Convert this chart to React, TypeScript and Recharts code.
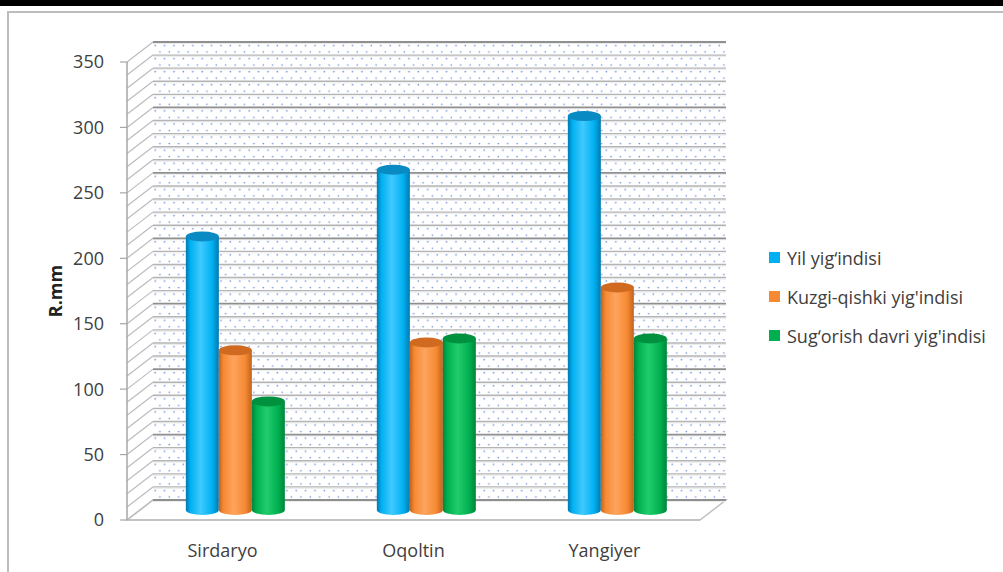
import React from "react";
import { BarChart, Bar, XAxis, YAxis, CartesianGrid, ReferenceArea } from "recharts";

// rainfall per district, mm
const categories = ["Sirdaryo", "Oqoltin", "Yangiyer"];
const yilYigindisi = [209, 260, 301];
const kuzgiQishki = [122, 128, 170];
const sugorishDavri = [83, 131, 131];

const seriesKeys = ["yil", "kuzgi", "sugorish"];
const seriesNames = ["Yil yig\u2018indisi", "Kuzgi-qishki yig'indisi", "Sug\u2018orish davri yig'indisi"];

const yTickLabels = [0, 50, 100, 150, 200, 250, 300, 350];
const yGridTicks = [
  0, 10, 20, 30, 40, 50, 60, 70, 80, 90, 100, 110, 120, 130, 140, 150, 160, 170,
  180, 190, 200, 210, 220, 230, 240, 250, 260, 270, 280, 290, 300, 310, 320, 330, 340, 350,
];

const data = categories.map((name, i) => ({
  name,
  yil: yilYigindisi[i],
  kuzgi: kuzgiQishki[i],
  sugorish: sugorishDavri[i],
}));

// cylinder tones: edge, body, highlight, cap
const tones = [
  { edge: "#0079b0", body: "#00b0f0", light: "#3fcaff", cap: "#0a8ac2" },
  { edge: "#c2621c", body: "#f68a33", light: "#fda45e", cap: "#cf6a20" },
  { edge: "#00853a", body: "#00b050", light: "#22cc6c", cap: "#00913f" },
];

const FONT = "'Open Sans', sans-serif";
const TEXT = "#404040";
const DEPTH_X = 26;
const DEPTH_Y = 20;

function Walls(props: any) {
  const { x, y, width, height } = props;
  const bx = x + DEPTH_X;
  const by = y - DEPTH_Y;
  const bottom = y + height;
  return (
    <g>
      <defs>
        <pattern id="wallDots" patternUnits="userSpaceOnUse" x={bx} y={by} width={9.4} height={13.09}>
          <circle cx={2.2} cy={3.4} r={0.85} fill="#7895d8" />
          <circle cx={6.9} cy={9.9} r={0.85} fill="#7895d8" />
        </pattern>
      </defs>
      <polygon
        points={`${x},${y} ${bx},${by} ${bx},${bottom - DEPTH_Y} ${x},${bottom}`}
        fill="#ffffff"
      />
      <rect x={bx} y={by} width={width} height={height} fill="#ffffff" />
      <rect x={bx} y={by} width={width} height={height} fill="url(#wallDots)" />
      <polygon
        points={`${x},${bottom} ${bx},${bottom - DEPTH_Y} ${bx + width},${bottom - DEPTH_Y} ${x + width},${bottom}`}
        fill="#ffffff"
        stroke="#bfbfbf"
        strokeWidth={1.5}
      />
    </g>
  );
}

function GridLine(props: any) {
  const { x1, x2, y1, index } = props;
  const value = yGridTicks[index];
  const major = value % 50 === 0;
  const by = y1 - DEPTH_Y;
  return (
    <g key={props.key}>
      <line x1={x1} y1={y1} x2={x1 + DEPTH_X} y2={by} stroke="#bcbcbc" strokeWidth={1.2} />
      <line x1={x1 + DEPTH_X} y1={by + 1.5} x2={x2 + DEPTH_X} y2={by + 1.5} stroke="#ececec" strokeWidth={1} />
      <line
        x1={x1 + DEPTH_X}
        y1={by}
        x2={x2 + DEPTH_X}
        y2={by}
        stroke={major ? "#8f8f8f" : "#b4b4b4"}
        strokeWidth={major ? 1.8 : 1.4}
      />
      {major && <line x1={x1 - 7} y1={y1} x2={x1} y2={y1} stroke="#a6a6a6" strokeWidth={1.2} />}
    </g>
  );
}

function YTick(props: any) {
  const { x, y, payload } = props;
  if (!yTickLabels.includes(payload.value)) return null;
  return (
    <text x={x} y={y} dy="0.36em" textAnchor="end" fill={TEXT} fontSize={18} fontFamily={FONT}>
      {payload.value}
    </text>
  );
}

function YTitle(props: any) {
  const vb = props.viewBox || { x: 47, y: 62, width: 80, height: 458 };
  const cx = vb.x + 8;
  const cy = vb.y + vb.height / 2;
  return (
    <text
      x={cx}
      y={cy}
      transform={`rotate(-90 ${cx} ${cy})`}
      textAnchor="middle"
      dominantBaseline="central"
      fontWeight="bold"
      fontSize={18}
      fill="#222"
      fontFamily={FONT}
    >
      R.mm
    </text>
  );
}

function Cylinder(props: any) {
  const { x, y, width, height, tone, gradId } = props;
  if (width == null || height == null) return null;
  const left = x + DEPTH_X / 2;
  const right = left + width;
  const top = y - DEPTH_Y / 2;
  const base = y + height - DEPTH_Y / 2;
  const rx = width / 2;
  const ry = 5;
  return (
    <g>
      <defs>
        <linearGradient id={gradId} x1="0" y1="0" x2="1" y2="0">
          <stop offset="0" stopColor={tone.edge} />
          <stop offset="0.14" stopColor={tone.body} />
          <stop offset="0.45" stopColor={tone.light} />
          <stop offset="0.8" stopColor={tone.body} />
          <stop offset="1" stopColor={tone.edge} />
        </linearGradient>
      </defs>
      <path
        d={`M${left},${top} L${left},${base} A${rx},${ry} 0 0 0 ${right},${base} L${right},${top} Z`}
        fill={`url(#${gradId})`}
      />
      <ellipse cx={left + rx} cy={top} rx={rx} ry={ry} fill={tone.cap} />
    </g>
  );
}

export default function App() {
  return (
    <div
      style={{
        position: "absolute",
        left: 0,
        top: 0,
        width: 1003,
        height: 572,
        background: "#ffffff",
        overflow: "hidden",
        fontFamily: FONT,
      }}
    >
      <div style={{ position: "absolute", left: 0, top: 0, width: 1003, height: 6, background: "#000" }} />
      <div
        style={{
          position: "absolute",
          left: 7,
          top: 11,
          width: 1003,
          height: 600,
          borderLeft: "2px solid #bdbdbd",
          borderTop: "2px solid #bdbdbd",
        }}
      />
      <div style={{ position: "absolute", left: 0, top: 0 }}>
        <BarChart
          width={1003}
          height={572}
          data={data}
          margin={{ top: 62, right: 303, bottom: 12, left: 47 }}
          barCategoryGap="24%"
          barGap={0}
        >
          <ReferenceArea y1={0} y2={350} shape={Walls} zIndex={-200} ifOverflow="visible" />
          <CartesianGrid vertical={false} horizontal={GridLine} />
          <XAxis
            dataKey="name"
            height={40}
            tickLine={false}
            tickMargin={18}
            axisLine={{ stroke: "#bfbfbf", strokeWidth: 1.5 }}
            tick={{ fill: TEXT, fontSize: 18, fontFamily: FONT }}
          />
          <YAxis
            width={80}
            domain={[0, 350]}
            ticks={yGridTicks}
            interval={0}
            tickLine={false}
            tickMargin={17}
            axisLine={{ stroke: "#a6a6a6", strokeWidth: 1.5 }}
            tick={YTick}
            label={<YTitle />}
          />
          {seriesKeys.map((key, i) => (
            <Bar
              key={key}
              dataKey={key}
              name={seriesNames[i]}
              fill={tones[i].body}
              isAnimationActive={false}
              shape={(p: any) => <Cylinder {...p} tone={tones[i]} gradId={`cyl-${key}`} />}
            />
          ))}
        </BarChart>
      </div>
      <div style={{ position: "absolute", left: 769, top: 238, fontSize: 18, color: TEXT }}>
        {seriesNames.map((name, i) => (
          <div key={name} style={{ display: "flex", alignItems: "center", height: 39, whiteSpace: "nowrap" }}>
            <span
              style={{ display: "inline-block", width: 11, height: 11, background: tones[i].body, marginRight: 7 }}
            />
            {name}
          </div>
        ))}
      </div>
    </div>
  );
}
